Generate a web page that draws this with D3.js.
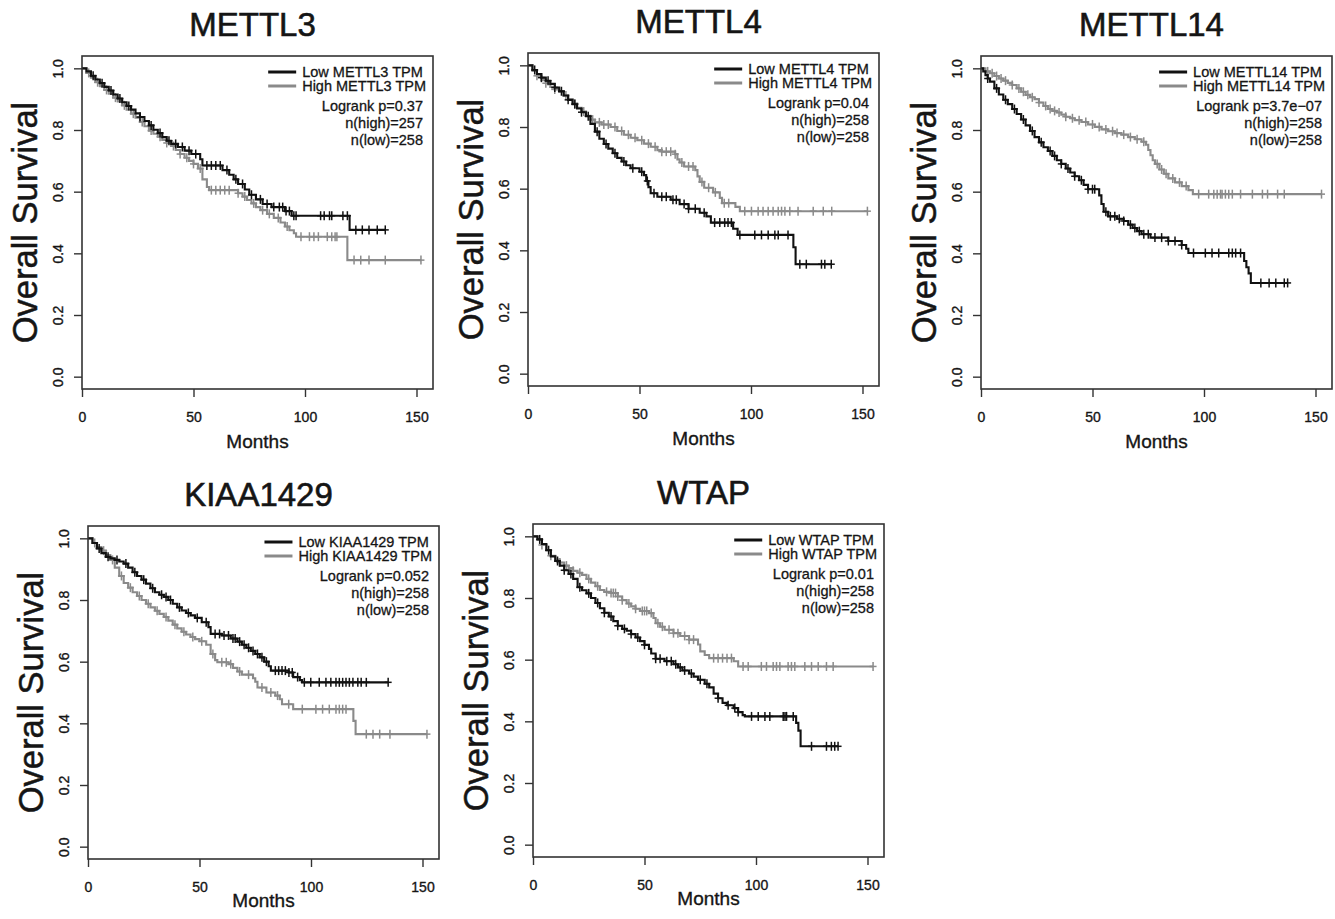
<!DOCTYPE html>
<html>
<head>
<meta charset="utf-8">
<script src="https://cdn.jsdelivr.net/npm/d3@7"></script>
<style>
  body { margin: 0; background: #fff; }
  svg { display: block; font-family: "Liberation Sans", Arial, Helvetica, sans-serif; }
</style>
</head>
<body>
<svg id="chart" width="1335" height="919"></svg>
<script>
// ---- data: [month, survival] steps, censor months ----
var genes = ["METTL3", "METTL4", "METTL14", "KIAA1429", "WTAP"];
var pValues = ["0.37", "0.04", "3.7e\u221207", "0.052", "0.01"];
var nHigh = [257, 258, 258, 258, 258];
var nLow = [258, 258, 258, 258, 258];
var xTicks = [0, 50, 100, 150];
var yTicks = [0, 0.2, 0.4, 0.6, 0.8, 1.0];

var mettl3Low = [[0,1],[2,0.99],[4,0.976],[6,0.964],[8,0.952],[10,0.94],[12,0.928],[14,0.915],[16,0.902],[18,0.89],[20,0.878],[22,0.866],[24,0.854],[26,0.842],[28,0.829],[30,0.815],[32,0.801],[34,0.79],[36,0.777],[38,0.765],[40,0.755],[43,0.745],[46,0.733],[49,0.722],[53,0.705],[54,0.685],[63,0.67],[66,0.655],[68,0.64],[70,0.625],[73,0.607],[75,0.59],[78,0.575],[81,0.56],[85,0.55],[91,0.537],[94,0.522],[120,0.476]];
var mettl3LowCens = [5,9,13,17,21,26,31,35,39,42,45,48,51,56,58,60,62,65,69,72,76,80,83,86,88.5,90,91.5,93,95,96,107,108.6,111,112,117,119,122.8,125.7,128.7,132.4,136];
var mettl3High = [[0,1],[2,0.985],[4,0.97],[6,0.955],[8,0.942],[10,0.93],[12,0.918],[14,0.905],[16,0.893],[18,0.88],[20,0.866],[22,0.853],[24,0.84],[26,0.826],[28,0.812],[30,0.798],[32,0.788],[34,0.778],[36,0.768],[38,0.758],[40,0.748],[42,0.735],[44,0.722],[46,0.71],[48,0.7],[50,0.69],[52,0.675],[54,0.64],[56,0.615],[57,0.605],[70,0.595],[72,0.584],[74,0.573],[76,0.562],[78,0.55],[80,0.54],[83,0.528],[86,0.515],[89,0.5],[91,0.487],[93,0.475],[95,0.465],[96,0.454],[119,0.378]];
var mettl3HighCens = [3,7,11,15,19,23,27,31,35,38,41,44,47,50,53,58,60,62,64,66,70,73,77,81,84,88,92,98.2,102,104,106,110,112,113.5,114.3,122,125,128.7,136,152];

var mettl4Low = [[0,1],[2,0.985],[4,0.972],[6,0.96],[8,0.95],[10,0.94],[12,0.928],[14,0.916],[16,0.902],[18,0.888],[20,0.874],[22,0.86],[24,0.848],[26,0.835],[28,0.81],[30,0.785],[32,0.762],[34,0.745],[36,0.73],[38,0.715],[40,0.7],[42,0.688],[44,0.676],[46,0.666],[50,0.655],[52,0.644],[53,0.625],[54,0.605],[55,0.585],[58,0.574],[64,0.564],[68,0.55],[72,0.535],[77,0.522],[80,0.51],[82,0.49],[92,0.47],[94,0.45],[119,0.41],[120,0.355]];
var mettl4LowCens = [3,6,9,12,15,18,21,24,27,31,35,39,43,47,51,53.5,56.5,60,62,65,66.5,70,72,75,79,83.7,86,88.2,89.7,91.2,95,101.7,104.7,107.7,110.7,112.2,116.6,121.9,124.8,131.6,133.1,136];
var mettl4High = [[0,1],[2,0.982],[4,0.966],[6,0.952],[8,0.942],[10,0.93],[12,0.922],[14,0.914],[16,0.902],[18,0.89],[20,0.876],[22,0.862],[24,0.85],[26,0.836],[28,0.824],[30,0.815],[33,0.808],[37,0.8],[40,0.787],[43,0.775],[46,0.765],[49,0.757],[52,0.746],[55,0.736],[58,0.725],[60,0.72],[66,0.712],[67,0.695],[68,0.685],[70,0.672],[75,0.66],[76,0.64],[77,0.622],[79,0.603],[83,0.588],[86,0.57],[87,0.553],[93,0.541],[95,0.527]];
var mettl4HighCens = [4,8,12,17,21,25,29,32,34,36,39,42,45,48,51,54,57,60,62,64,66,69,72,74,78,81,84,88,90,97.2,100.2,103.2,105.4,107.7,109.9,112.2,113.7,115.2,117.4,121.1,127.9,132.4,136.2,152.2];

var mettl14Low = [[0,1],[1,0.99],[2,0.978],[3,0.967],[4,0.957],[6,0.935],[8,0.915],[10,0.898],[12,0.884],[14,0.868],[16,0.852],[18,0.834],[20,0.815],[22,0.797],[24,0.777],[26,0.76],[28,0.744],[30,0.732],[32,0.716],[34,0.702],[36,0.69],[38,0.675],[40,0.662],[42,0.65],[44,0.637],[46,0.622],[48,0.608],[53,0.588],[54,0.56],[55,0.535],[57,0.52],[61,0.512],[64,0.505],[66,0.493],[68,0.482],[70,0.472],[72,0.462],[76,0.451],[84,0.44],[90,0.427],[92,0.415],[93,0.401],[118,0.375],[119,0.355],[120,0.335],[121,0.304]];
var mettl14LowCens = [3,7,11,15,19,23,27,31,33,36,39,42,45,48,50,51,56,58,60,62,64,67,69,71,73,75,78,81,84,87,90,95.3,100.6,103.6,106.6,111.1,112.7,114.2,116.4,125.5,129.2,132.2,136,137.5];
var mettl14High = [[0,1],[2,0.99],[4,0.984],[6,0.975],[8,0.967],[10,0.96],[12,0.953],[14,0.946],[16,0.935],[18,0.924],[20,0.914],[22,0.906],[24,0.9],[26,0.889],[28,0.878],[30,0.868],[32,0.862],[34,0.857],[36,0.85],[38,0.843],[40,0.838],[42,0.832],[45,0.826],[48,0.818],[51,0.81],[54,0.802],[57,0.796],[60,0.79],[63,0.785],[66,0.777],[69,0.77],[72,0.762],[74,0.752],[75,0.735],[76,0.718],[77,0.702],[78,0.69],[80,0.672],[82,0.658],[84,0.643],[87,0.63],[90,0.618],[93,0.605],[95,0.592]];
var mettl14HighCens = [3,5,7,9,11,14,17,19,21,23,26,29,31,33,35,38,41,44,47,50,53,56,59,61,64,67,70,73,79,81,83,86,89,92,97.6,102.1,104.4,105.9,107.4,108.1,109.6,111.1,112.7,116.4,121.7,126.2,128.5,133,136,152.7];

var kiaaLow = [[0,1],[2,0.985],[4,0.967],[6,0.952],[8,0.94],[10,0.935],[12,0.93],[14,0.925],[16,0.918],[18,0.905],[20,0.89],[22,0.878],[24,0.866],[26,0.853],[28,0.838],[30,0.825],[32,0.817],[34,0.81],[36,0.8],[38,0.788],[40,0.776],[42,0.766],[44,0.758],[46,0.75],[48,0.742],[51,0.728],[54,0.712],[55,0.69],[60,0.685],[64,0.675],[67,0.665],[69,0.655],[71,0.645],[73,0.635],[75,0.625],[77,0.614],[79,0.6],[81,0.585],[82,0.571],[90,0.565],[92,0.55],[95,0.54],[96,0.533]];
var kiaaLowCens = [5,9,13,17,21,25,29,33,35,37,41,45,49,53,57,59,61,63,65,66,68,70,72,74,76,78,80,84,85.5,87,88.5,90.1,91.6,94,97,99.9,103.7,106.7,108.9,111.2,112.7,114.2,115.7,117.2,118.8,121,122.5,124.8,134.6];
var kiaaHigh = [[0,1],[2,0.985],[4,0.972],[6,0.96],[8,0.946],[10,0.93],[12,0.905],[14,0.878],[16,0.855],[18,0.84],[20,0.825],[22,0.813],[24,0.8],[26,0.788],[28,0.776],[30,0.765],[32,0.755],[34,0.745],[36,0.733],[38,0.72],[40,0.708],[42,0.697],[44,0.688],[46,0.68],[48,0.673],[50,0.666],[53,0.655],[55,0.625],[57,0.605],[58,0.598],[63,0.592],[65,0.58],[67,0.568],[69,0.558],[74,0.546],[75,0.535],[76,0.516],[80,0.5],[84,0.49],[86,0.478],[87,0.462],[92,0.446],[119,0.408],[120,0.365]];
var kiaaHighCens = [3,7,11,15,19,23,27,31,35,39,43,47,51,56,60,62,64,68,72,78,82,85,90,96.1,102.2,105.2,108.2,111.2,112.7,114.2,115.7,124.8,127.8,130.8,135.4,152];

var wtapLow = [[0,1],[2,0.99],[4,0.975],[6,0.955],[8,0.935],[10,0.92],[12,0.905],[14,0.89],[16,0.878],[18,0.862],[20,0.835],[22,0.825],[24,0.815],[26,0.8],[28,0.784],[30,0.767],[32,0.752],[34,0.74],[36,0.725],[38,0.71],[40,0.7],[42,0.694],[44,0.683],[46,0.672],[48,0.66],[50,0.648],[52,0.635],[53,0.62],[55,0.603],[59,0.595],[63,0.585],[65,0.575],[67,0.565],[70,0.555],[72,0.545],[74,0.535],[77,0.522],[79,0.51],[81,0.49],[83,0.475],[85,0.46],[87,0.452],[90,0.443],[92,0.43],[94,0.42],[95,0.416],[118,0.395],[119,0.37],[120,0.319]];
var wtapLowCens = [3,7,11,14,17,21,25,29,32,35,38,41,44,47,50,55,57,60,62,64,66,68,71,75,78,83,87.5,90.5,92,98,101,104,106.2,112.2,113,113.7,116.7,124.9,131.6,133.8,135.3,136.8];
var wtapHigh = [[0,1],[2,0.99],[4,0.972],[6,0.955],[8,0.937],[10,0.925],[12,0.915],[14,0.905],[16,0.897],[18,0.888],[20,0.882],[22,0.875],[24,0.862],[26,0.85],[28,0.838],[30,0.826],[32,0.82],[35,0.816],[38,0.805],[40,0.793],[42,0.782],[44,0.773],[46,0.765],[48,0.758],[52,0.751],[54,0.735],[55,0.718],[57,0.707],[59,0.697],[63,0.686],[66,0.677],[70,0.665],[74,0.649],[75,0.627],[77,0.615],[79,0.605],[90,0.595],[92,0.578]];
var wtapHighCens = [4,8,12,15,18,21,25,29,33,35,36,37,38,40,43,46,49,50,51,53,56,58,61,63,65,68,70,72,81,83,85,87,89,94.2,96.5,102.4,104.7,107.7,109.2,110.7,114.4,115.9,117.4,121.9,124.9,127.9,131.6,134.6,152.5];

var lowCurves = [mettl3Low, mettl4Low, mettl14Low, kiaaLow, wtapLow];
var lowCensors = [mettl3LowCens, mettl4LowCens, mettl14LowCens, kiaaLowCens, wtapLowCens];
var highCurves = [mettl3High, mettl4High, mettl14High, kiaaHigh, wtapHigh];
var highCensors = [mettl3HighCens, mettl4HighCens, mettl14HighCens, kiaaHighCens, wtapHighCens];

// ---- layout ----
var panelPos = [[82, 56], [528, 53], [981, 56], [88, 526], [533, 524]];
var monthsGap = [59, 59, 59, 48, 48]; // bottom row sits tighter to the page edge
var boxW = 351, boxH = 333;
var lowColour = "#111", highColour = "#8a8a8a", inkColour = "#151515", frameColour = "#333";

var svg = d3.select("#chart");
svg.append("rect").attr("width", 1335).attr("height", 919).attr("fill", "#fff");

var x = d3.scaleLinear().domain([0, 157.4]).range([0, boxW]);
var y = d3.scaleLinear().domain([-0.04, 1.04]).range([boxH, 0]);

var line = d3.line()
	.x(function (d) { return x(d[0]); })
	.y(function (d) { return y(d[1]); })
	.curve(d3.curveStepAfter);

//survival value of a step curve at month t
function survAt(steps, t) {
	var s = 1;
	for (var i = 0; i < steps.length; i++) {
		if (steps[i][0] <= t) s = steps[i][1]; else break;
	}
	return s;
}

//text in the scan looks heavier than a plain regular face
function heavy(sel, w) {
	sel.attr("stroke", inkColour).attr("stroke-width", w).attr("paint-order", "stroke");
}

function drawCurve(g, steps, censors, colour) {
	var end = Math.max(d3.max(censors), steps[steps.length - 1][0]);
	var pts = steps.concat([[end, steps[steps.length - 1][1]]]);
	g.append("path").datum(pts)
		.attr("d", line)
		.attr("fill", "none")
		.attr("stroke", colour)
		.attr("stroke-width", 2.1);

	var marks = g.append("g").selectAll("g")
		.data(censors)
		.enter().append("g")
		.attr("transform", function (t) { return "translate(" + x(t) + "," + y(survAt(steps, t)) + ")"; })
		.attr("stroke", colour)
		.attr("stroke-width", 1.5);
	marks.append("line").attr("y1", -4.5).attr("y2", 4.5);
	marks.append("line").attr("x1", -3.5).attr("x2", 3.5);
}

function drawPanel(i) {
	var g = svg.append("g")
		.attr("transform", "translate(" + panelPos[i][0] + "," + panelPos[i][1] + ")");

	//axes
	var xAxis = g.append("g")
		.attr("transform", "translate(0," + boxH + ")")
		.style("color", frameColour)
		.call(d3.axisBottom(x).tickValues(xTicks).tickSize(8).tickPadding(15).tickFormat(d3.format("d")));
	xAxis.select(".domain").remove();
	xAxis.selectAll("line").attr("stroke-width", 1.4);
	xAxis.selectAll("text")
		.attr("fill", inkColour)
		.style("font-size", "14px")
		.style("font-family", null)
		.call(heavy, 0.35);

	var yAxis = g.append("g")
		.style("color", frameColour)
		.call(d3.axisLeft(y).tickValues(yTicks).tickSize(8).tickFormat(d3.format(".1f")));
	yAxis.select(".domain").remove();
	yAxis.selectAll("line").attr("stroke-width", 1.4);
	yAxis.selectAll("text")
		.attr("transform", "rotate(-90)")
		.attr("x", 0)
		.attr("y", -19)
		.attr("dy", null)
		.attr("text-anchor", "middle")
		.attr("fill", inkColour)
		.style("font-size", "14px")
		.style("font-family", null)
		.call(heavy, 0.35);

	//curves
	var plot = g.append("g");
	drawCurve(plot, highCurves[i], highCensors[i], highColour);
	drawCurve(plot, lowCurves[i], lowCensors[i], lowColour);

	//frame
	g.append("rect")
		.attr("width", boxW).attr("height", boxH)
		.attr("fill", "none")
		.attr("stroke", frameColour)
		.attr("stroke-width", 1.6);

	//titles
	g.append("text")
		.attr("x", boxW / 2 - 5).attr("y", -20)
		.attr("text-anchor", "middle")
		.attr("fill", inkColour)
		.style("font-size", "33px")
		.text(genes[i])
		.call(heavy, 0.6);

	g.append("text")
		.attr("transform", "translate(-45," + (boxH / 2) + ") rotate(-90)")
		.attr("text-anchor", "middle")
		.attr("fill", inkColour)
		.style("font-size", "34.5px")
		.text("Overall Survival")
		.call(heavy, 0.5);

	g.append("text")
		.attr("x", boxW / 2).attr("y", boxH + monthsGap[i])
		.attr("text-anchor", "middle")
		.attr("fill", inkColour)
		.style("font-size", "19px")
		.text("Months")
		.call(heavy, 0.35);

	//legend
	var leg = g.append("g").style("font-size", "14.5px").attr("fill", inkColour);
	var highText = leg.append("text").attr("y", 35).text("High " + genes[i] + " TPM");
	var textX = boxW - 7 - highText.node().getComputedTextLength();
	highText.attr("x", textX);
	leg.append("text").attr("x", textX).attr("y", 21).text("Low " + genes[i] + " TPM");
	leg.append("line").attr("x1", textX - 34).attr("x2", textX - 6).attr("y1", 16).attr("y2", 16)
		.attr("stroke", lowColour).attr("stroke-width", 3);
	leg.append("line").attr("x1", textX - 34).attr("x2", textX - 6).attr("y1", 30).attr("y2", 30)
		.attr("stroke", highColour).attr("stroke-width", 3);

	var stats = ["Logrank p=" + pValues[i], "n(high)=" + nHigh[i], "n(low)=" + nLow[i]];
	leg.selectAll("text.stat")
		.data(stats)
		.enter().append("text")
		.attr("class", "stat")
		.attr("x", boxW - 10)
		.attr("y", function (d, k) { return 55 + k * 17; })
		.attr("text-anchor", "end")
		.text(function (d) { return d; });
	leg.selectAll("text").call(heavy, 0.3);
}

for (var i = 0; i < genes.length; i++) drawPanel(i);
</script>
</body>
</html>
